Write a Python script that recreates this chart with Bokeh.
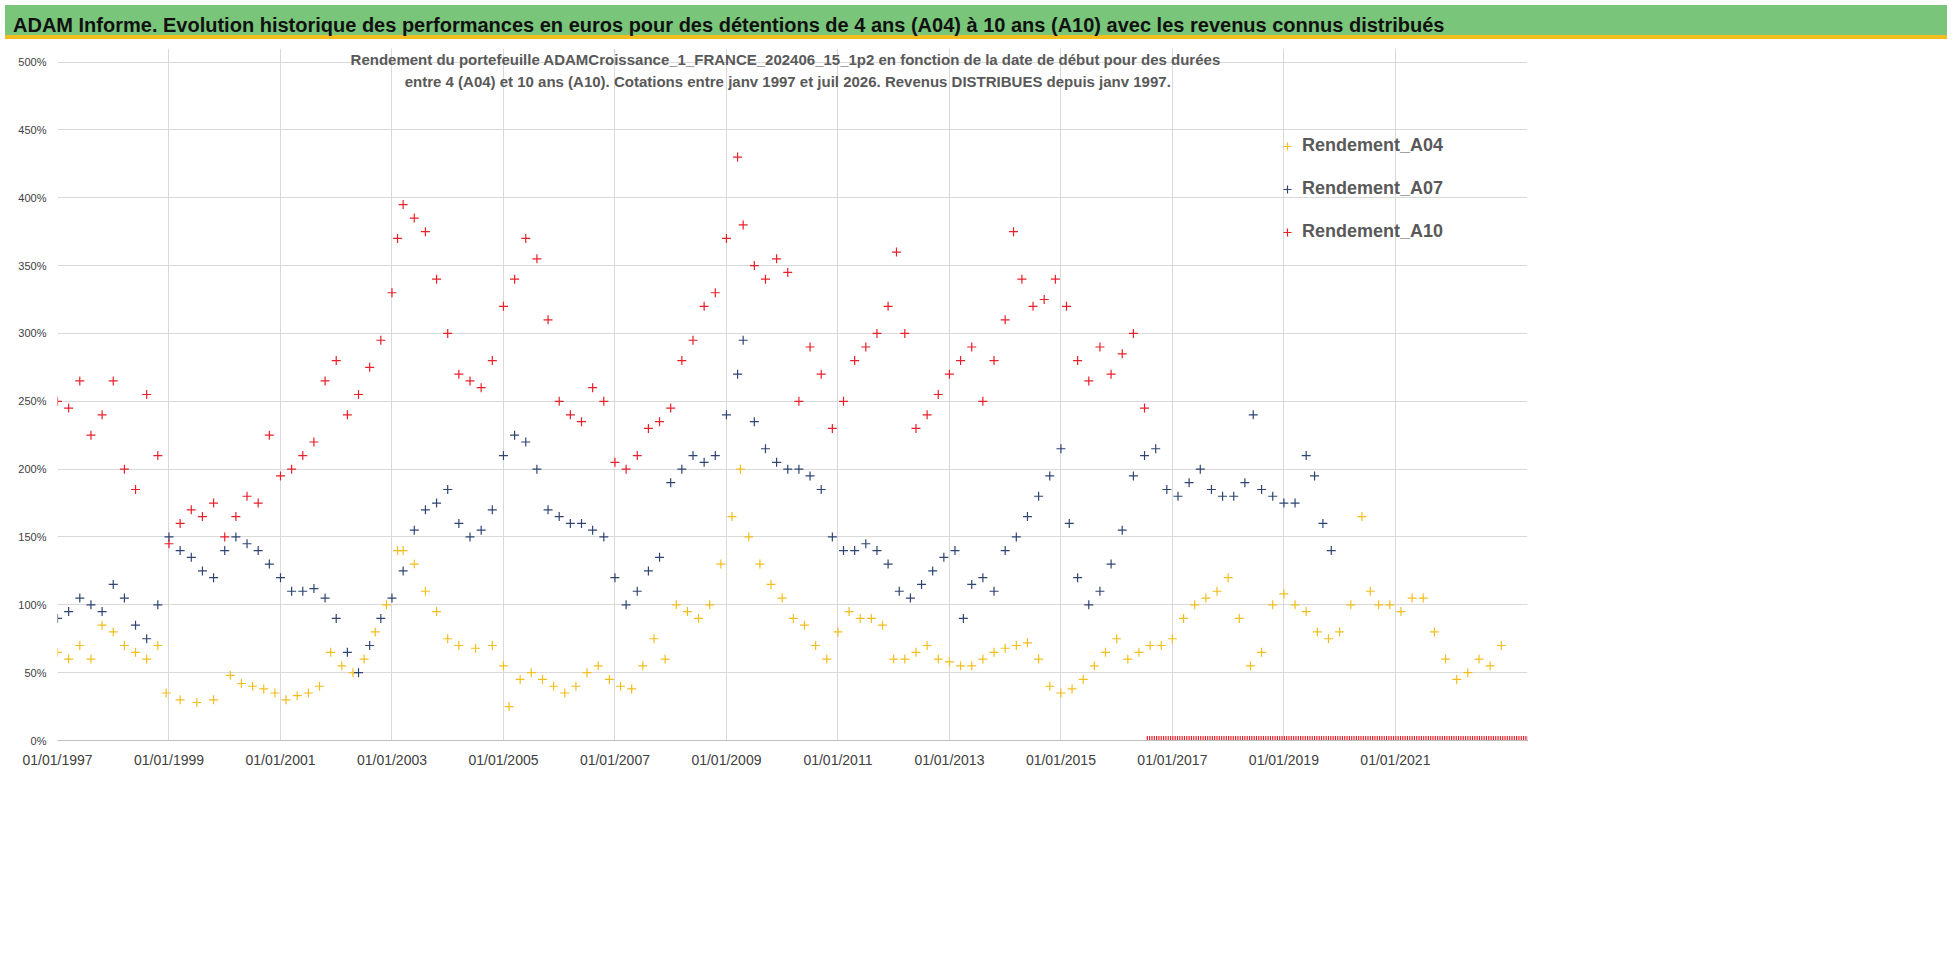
from bokeh.plotting import figure
from bokeh.models import Div, Label, Legend, LegendItem, FixedTicker, Range1d
from bokeh.layouts import column
from bokeh.embed import file_html
from bokeh.resources import INLINE
import numpy as np

a04_x = [1997.0,1997.2,1997.4,1997.6,1997.8,1998.0,1998.2,1998.4,1998.6,1998.8,1998.95,1999.2,1999.5,1999.8,2000.1,2000.3,2000.5,2000.7,2000.9,2001.1,2001.3,2001.5,2001.7,2001.9,2002.1,2002.3,2002.5,2002.7,2002.9,2003.1,2003.2,2003.4,2003.6,2003.8,2004.0,2004.2,2004.5,2004.8,2005.0,2005.1,2005.3,2005.5,2005.7,2005.9,2006.1,2006.3,2006.5,2006.7,2006.9,2007.1,2007.3,2007.5,2007.7,2007.9,2008.1,2008.3,2008.5,2008.7,2008.9,2009.1,2009.25,2009.4,2009.6,2009.8,2010.0,2010.2,2010.4,2010.6,2010.8,2011.0,2011.2,2011.4,2011.6,2011.8,2012.0,2012.2,2012.4,2012.6,2012.8,2013.0,2013.2,2013.4,2013.6,2013.8,2014.0,2014.2,2014.4,2014.6,2014.8,2015.0,2015.2,2015.4,2015.6,2015.8,2016.0,2016.2,2016.4,2016.6,2016.8,2017.0,2017.2,2017.4,2017.6,2017.8,2018.0,2018.2,2018.4,2018.6,2018.8,2019.0,2019.2,2019.4,2019.6,2019.8,2020.0,2020.2,2020.4,2020.55,2020.7,2020.9,2021.1,2021.3,2021.5,2021.7,2021.9,2022.1,2022.3,2022.5,2022.7,2022.9,2023.1,2023.3]
a04_y = [65,60,70,60,85,80,70,65,60,70,35,30,28,30,48,42,40,38,35,30,33,35,40,65,55,50,60,80,100,140,140,130,110,95,75,70,68,70,55,25,45,50,45,40,35,40,50,55,45,40,38,55,75,60,100,95,90,100,130,165,200,150,130,115,105,90,85,70,60,80,95,90,90,85,60,60,65,70,60,58,55,55,60,65,68,70,72,60,40,35,38,45,55,65,75,60,65,70,70,75,90,100,105,110,120,90,55,65,100,108,100,95,80,75,80,100,165,110,100,100,95,105,105,80,60,45,50,60,55,70]

a07_x = [1997.0,1997.2,1997.4,1997.6,1997.8,1998.0,1998.2,1998.4,1998.6,1998.8,1999.0,1999.2,1999.4,1999.6,1999.8,2000.0,2000.2,2000.4,2000.6,2000.8,2001.0,2001.2,2001.4,2001.6,2001.8,2002.0,2002.2,2002.4,2002.6,2002.8,2003.0,2003.2,2003.4,2003.6,2003.8,2004.0,2004.2,2004.4,2004.6,2004.8,2005.0,2005.2,2005.4,2005.6,2005.8,2006.0,2006.2,2006.4,2006.6,2006.8,2007.0,2007.2,2007.4,2007.6,2007.8,2008.0,2008.2,2008.4,2008.6,2008.8,2009.0,2009.2,2009.3,2009.5,2009.7,2009.9,2010.1,2010.3,2010.5,2010.7,2010.9,2011.1,2011.3,2011.5,2011.7,2011.9,2012.1,2012.3,2012.5,2012.7,2012.9,2013.1,2013.25,2013.4,2013.6,2013.8,2014.0,2014.2,2014.4,2014.6,2014.8,2015.0,2015.15,2015.3,2015.5,2015.7,2015.9,2016.1,2016.3,2016.5,2016.7,2016.9,2017.1,2017.3,2017.5,2017.7,2017.9,2018.1,2018.3,2018.45,2018.6,2018.8,2019.0,2019.2,2019.4,2019.55,2019.7,2019.85]
a07_y = [90,95,105,100,95,115,105,85,75,100,150,140,135,125,120,140,150,145,140,130,120,110,110,112,105,90,65,50,70,90,105,125,155,170,175,185,160,150,155,170,210,225,220,200,170,165,160,160,155,150,120,100,110,125,135,190,200,210,205,210,240,270,295,235,215,205,200,200,195,185,150,140,140,145,140,130,110,105,115,125,135,140,90,115,120,110,140,150,165,180,195,215,160,120,100,110,130,155,195,210,215,185,180,190,200,185,180,180,190,240,185,180,175,175,210,195,160,140,125,120]

a10_x = [1997.0,1997.2,1997.4,1997.6,1997.8,1998.0,1998.2,1998.4,1998.6,1998.8,1999.0,1999.2,1999.4,1999.6,1999.8,2000.0,2000.2,2000.4,2000.6,2000.8,2001.0,2001.2,2001.4,2001.6,2001.8,2002.0,2002.2,2002.4,2002.6,2002.8,2003.0,2003.1,2003.2,2003.4,2003.6,2003.8,2004.0,2004.2,2004.4,2004.6,2004.8,2005.0,2005.2,2005.4,2005.6,2005.8,2006.0,2006.2,2006.4,2006.6,2006.8,2007.0,2007.2,2007.4,2007.6,2007.8,2008.0,2008.2,2008.4,2008.6,2008.8,2009.0,2009.2,2009.3,2009.5,2009.7,2009.9,2010.1,2010.3,2010.5,2010.7,2010.9,2011.1,2011.3,2011.5,2011.7,2011.9,2012.05,2012.2,2012.4,2012.6,2012.8,2013.0,2013.2,2013.4,2013.6,2013.8,2014.0,2014.15,2014.3,2014.5,2014.7,2014.9,2015.1,2015.3,2015.5,2015.7,2015.9,2016.1,2016.3,2016.5]
a10_y = [250,245,265,225,240,265,200,185,255,210,145,160,170,165,175,150,165,180,175,225,195,200,210,220,265,280,240,255,275,295,330,370,395,385,375,340,300,270,265,260,280,320,340,370,355,310,250,240,235,260,250,205,200,210,230,235,245,280,295,320,330,370,430,380,350,340,355,345,250,290,270,230,250,280,290,300,320,360,300,230,240,255,270,280,290,250,280,310,375,340,320,325,340,320,280,265,290,270,285,300,245]
a10_zero_x = list(np.arange(2016.55, 2023.4, 1/24))
a10_zero_y = [0.0] * len(a10_zero_x)

tick_years = [1997,1999,2001,2003,2005,2007,2009,2011,2013,2015,2017,2019,2021]
tick_labels = ["01/01/%d" % y for y in tick_years]

YEL, BLU, RED = "#F2BE1E", "#2E4573", "#E8202A"
FONT = "Liberation Sans"

header = Div(text="ADAM Informe. Evolution historique des performances en euros pour des détentions de 4 ans (A04) à 10 ans (A10) avec les revenus connus distribués",
             width=1942, height=34,
             styles={"background-color": "#79C57A", "font-family": FONT, "font-weight": "bold",
                     "font-size": "20px", "color": "#111", "padding": "6px 0 0 8px",
                     "box-sizing": "border-box", "border-bottom": "4px solid #F2BE1E"})

p = figure(width=1942, height=736, output_backend="svg", toolbar_location=None,
           x_range=Range1d(1997, 2023.37), y_range=Range1d(0, 510),
           min_border_left=57, min_border_right=415, min_border_top=4, min_border_bottom=40)
p.outline_line_color = None
p.xgrid.grid_line_color = "#D9D9D9"
p.ygrid.grid_line_color = "#D9D9D9"
p.xaxis.ticker = FixedTicker(ticks=tick_years)
p.xaxis.major_label_overrides = {y: l for y, l in zip(tick_years, tick_labels)}
p.yaxis.ticker = FixedTicker(ticks=list(range(0, 501, 50)))
p.yaxis.major_label_overrides = {v: "%d%%" % v for v in range(0, 501, 50)}
for ax in (p.xaxis, p.yaxis):
    ax.major_label_text_font = FONT
    ax.major_label_text_color = "#404040"
    ax.major_tick_line_color = None
    ax.minor_tick_line_color = None
p.xaxis.major_label_text_font_size = "14px"
p.yaxis.major_label_text_font_size = "11px"
p.yaxis.axis_line_color = None
p.xaxis.axis_line_color = "#BFBFBF"

r4 = p.scatter(a04_x, a04_y, marker="cross", size=9, line_color=YEL, line_width=1.2)
r7 = p.scatter(a07_x, a07_y, marker="cross", size=9, line_color=BLU, line_width=1.2)
r10 = p.scatter(a10_x, a10_y, marker="cross", size=9, line_color=RED, line_width=1.2)
p.scatter(a10_zero_x, a10_zero_y, marker="cross", size=9, line_color=RED, line_width=1.2)

for txt, yv in [("Rendement du portefeuille ADAMCroissance_1_FRANCE_202406_15_1p2  en fonction de la date de début pour des durées", 502),
                ("entre 4 (A04) et 10 ans (A10). Cotations entre janv 1997 et juil 2026. Revenus DISTRIBUES depuis janv 1997.", 486)]:
    p.add_layout(Label(x=2010.1, y=yv, text=txt, text_align="center", text_baseline="middle",
                       text_font=FONT, text_font_style="bold", text_font_size="15px", text_color="#595959"))

leg = Legend(items=[LegendItem(label="Rendement_A04", renderers=[r4]),
                    LegendItem(label="Rendement_A07", renderers=[r7]),
                    LegendItem(label="Rendement_A10", renderers=[r10])],
             location=(1220, 498), orientation="vertical", spacing=22,
             label_text_font=FONT, label_text_font_style="bold", label_text_font_size="18px",
             label_text_color="#595959", border_line_color=None, background_fill_alpha=0)
p.add_layout(leg, "center")

layout = column(header, p, spacing=0)
open("out.html", "w").write(file_html(layout, INLINE))
